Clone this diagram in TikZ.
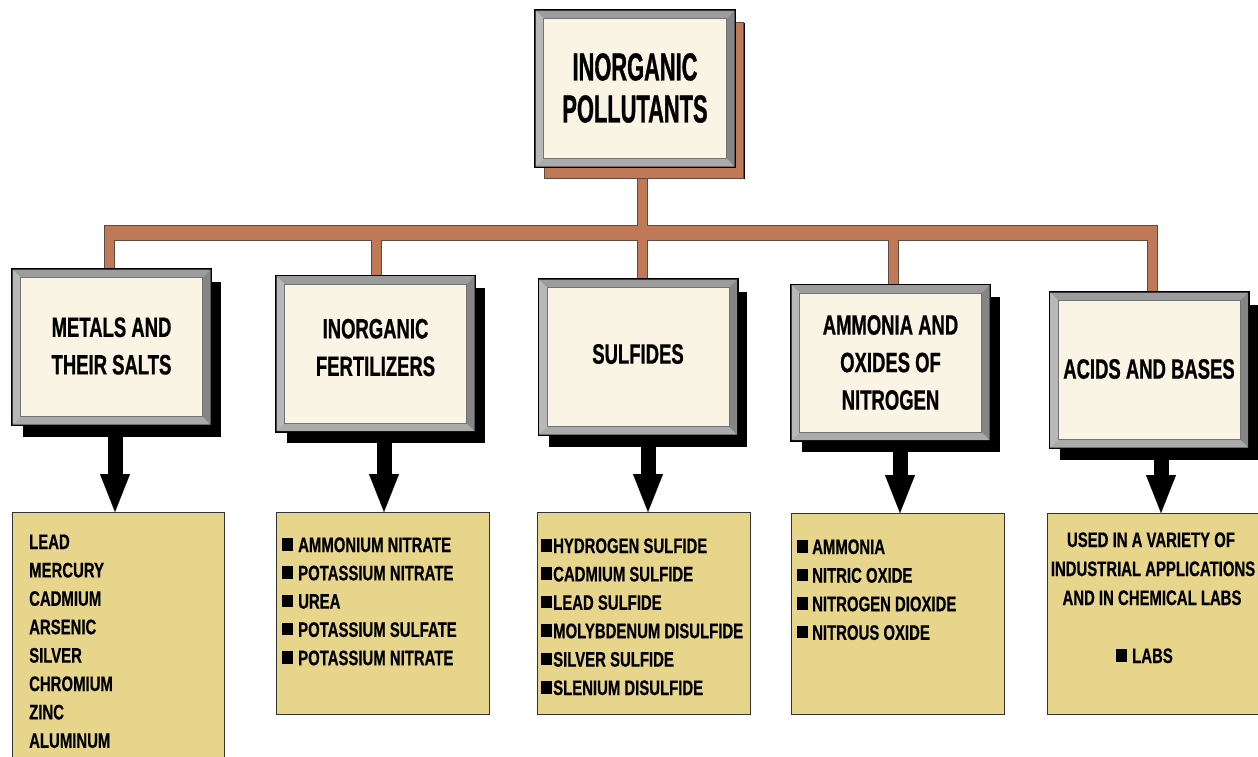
\documentclass[tikz,border=0pt]{standalone}
\usepackage{fontspec}
\setmainfont{Liberation Sans}
\newfontfamily\titlefont{Liberation Sans}[FakeStretch=0.56,FakeBold=0.8]
\newfontfamily\lblfont{Liberation Sans}[FakeStretch=0.66,FakeBold=0.7]
\newfontfamily\listfont{Liberation Sans}[FakeStretch=0.71,FakeBold=0.5]
\usetikzlibrary{shadows,arrows.meta,backgrounds}
\definecolor{cream}{HTML}{FAF4E4}
\definecolor{tan}{HTML}{E6D58B}
\definecolor{conbrown}{HTML}{BF7956}
\definecolor{conedge}{HTML}{5E4A3E}
\definecolor{bvT}{HTML}{9C9C9C}
\definecolor{bvL}{HTML}{B8B8B8}
\definecolor{bvR}{HTML}{858585}
\definecolor{bvB}{HTML}{ABABAB}
\newcommand\bevelbox[1]{%
  \fill[bvT] ([shift={(1.5pt,-1.5pt)}]#1.north west) -- ([shift={(-1.5pt,-1.5pt)}]#1.north east) -- ([shift={(-9.5pt,-9.5pt)}]#1.north east) -- ([shift={(9.5pt,-9.5pt)}]#1.north west) -- cycle;
  \fill[bvB] ([shift={(1.5pt,1.5pt)}]#1.south west) -- ([shift={(-1.5pt,1.5pt)}]#1.south east) -- ([shift={(-9.5pt,9.5pt)}]#1.south east) -- ([shift={(9.5pt,9.5pt)}]#1.south west) -- cycle;
  \fill[bvL] ([shift={(1.5pt,-1.5pt)}]#1.north west) -- ([shift={(9.5pt,-9.5pt)}]#1.north west) -- ([shift={(9.5pt,9.5pt)}]#1.south west) -- ([shift={(1.5pt,1.5pt)}]#1.south west) -- cycle;
  \fill[bvR] ([shift={(-1.5pt,-1.5pt)}]#1.north east) -- ([shift={(-9.5pt,-9.5pt)}]#1.north east) -- ([shift={(-9.5pt,9.5pt)}]#1.south east) -- ([shift={(-1.5pt,1.5pt)}]#1.south east) -- cycle;
  \draw[black!55, line width=0.6pt] ([shift={(9.5pt,-9.5pt)}]#1.north west) rectangle ([shift={(-9.5pt,9.5pt)}]#1.south east);
}
\newcommand\sqb{\rule[1.5pt]{11pt}{12.5pt}}
\begin{document}
\begin{tikzpicture}[x=1pt,y=-1pt,
  hbox/.style={draw=black, line width=3pt, fill=cream, minimum width=198pt, minimum height=155pt,
    inner sep=0pt, drop shadow={shadow xshift=10pt, shadow yshift=-12pt, fill=black, opacity=1}},
  tbox/.style={hbox, minimum width=199pt, minimum height=156pt,
    drop shadow={shadow xshift=9pt, shadow yshift=-12pt, fill=conbrown, draw=conedge, line width=1pt, opacity=1}},
  htext/.style={inner sep=0pt, align=center, font=\lblfont\bfseries\fontsize{28}{37.5}\selectfont},
  ttext/.style={inner sep=0pt, align=center, font=\titlefont\bfseries\fontsize{39}{42}\selectfont},
  lbox/.style={draw=black!80, line width=1.2pt, fill=tan, inner sep=0pt, anchor=north west},
  ltext/.style={anchor=base west, inner sep=0pt, font=\listfont\bfseries\fontsize{21}{28}\selectfont},
  ctext/.style={anchor=base, inner sep=0pt, font=\listfont\bfseries\fontsize{21}{28}\selectfont},
  conn out/.style={draw=conedge, line width=11pt},
  conn in/.style={draw=conbrown, line width=9pt},
  bigarrow/.style={draw=black, line width=15pt, -{Triangle[width=30pt,length=38pt,line width=0.1pt]}}
]
\useasboundingbox (0,0) rectangle (1258,756);
\clip (0,0) rectangle (1258,756);

% header boxes
\node[tbox] (top) at (635,88.5) {};
\node[hbox] (b1) at (111.5,347) {};
\node[hbox] (b2) at (375.5,353.5) {};
\node[hbox] (b3) at (638,357) {};
\node[hbox] (b4) at (890.5,362.5) {};
\node[hbox] (b5) at (1149,370) {};
\foreach \n in {top,b1,b2,b3,b4,b5} {\bevelbox{\n}}
\node[ttext] (topt) at ([yshift=0.5pt]top.center) {INORGANIC\\POLLUTANTS};
\node[htext] (b1t) at ([yshift=1pt]b1.center) {METALS AND\\THEIR SALTS};
\node[htext] (b2t) at ([yshift=6pt]b2.center) {INORGANIC\\FERTILIZERS};
\node[htext] (b3t) at ([yshift=3pt]b3.center) {SULFIDES};
\node[htext] (b4t) at ([yshift=0pt]b4.center) {AMMONIA AND\\OXIDES OF\\NITROGEN};
\node[htext] (b5t) at ([yshift=1pt]b5.center) {ACIDS AND BASES};

% list boxes
\node[lbox, minimum width=212pt, minimum height=260pt] (l1) at (12,512) {};
\node[lbox, minimum width=213pt, minimum height=202pt] (l2) at (276,512) {};
\node[lbox, minimum width=213pt, minimum height=202pt] (l3) at (537,512) {};
\node[lbox, minimum width=213pt, minimum height=201pt] (l4) at (791,513) {};
\node[lbox, minimum width=230pt, minimum height=201pt] (l5) at (1047,513) {};

% connector coordinates
\coordinate (d1) at (109.5,233);
\coordinate (d2) at (376.5,233);
\coordinate (d3) at (642.5,233);
\coordinate (d4) at (893.5,233);
\coordinate (d5) at (1152.5,233);
\coordinate (ax1) at (115,0);
\coordinate (ax2) at (384,0);
\coordinate (ax3) at (648,0);
\coordinate (ax4) at (900,0);
\coordinate (ax5) at (1161,0);

\begin{scope}[on background layer]
  % outline pass
  \draw[conn out] (d3 |- top.south) -- (d3);
  \foreach \i in {1,...,5} {\draw[conn out] (d\i) -- (d\i |- b\i.north);}
  \draw[draw=conedge, line width=16pt, shorten <=-5.5pt, shorten >=-5.5pt] (d1) -- (d5);
  % fill pass
  \draw[conn in] (d3 |- top.south) -- (d3);
  \foreach \i in {1,...,5} {\draw[conn in] ([yshift=-2pt]d\i) -- (d\i |- b\i.north);}
  \draw[draw=conbrown, line width=14pt, shorten <=-4.5pt, shorten >=-4.5pt] (d1) -- (d5);
  % arrows
  \foreach \i in {1,...,5} {\draw[bigarrow] (ax\i |- b\i.south) -- (ax\i |- l\i.north);}
\end{scope}

% list 1
\foreach \t [count=\i from 0] in {LEAD,MERCURY,CADMIUM,ARSENIC,SILVER,CHROMIUM,ZINC,ALUMINUM}
  {\node[ltext] (t1-\i) at (29,549+28.4*\i) {\t};}
% list 2
\foreach \t [count=\i from 0] in {AMMONIUM NITRATE,POTASSIUM NITRATE,UREA,POTASSIUM SULFATE,POTASSIUM NITRATE}
  {\node[ltext] (t2-\i) at (282,552+28.3*\i) {\sqb\hspace{5pt}\t};}
% list 3
\foreach \t [count=\i from 0] in {HYDROGEN SULFIDE,CADMIUM SULFIDE,LEAD SULFIDE,MOLYBDENUM DISULFIDE,SILVER SULFIDE,SLENIUM DISULFIDE}
  {\node[ltext] (t3-\i) at (541,553+28.4*\i) {\sqb\hspace{1pt}\t};}
% list 4
\foreach \t [count=\i from 0] in {AMMONIA,NITRIC OXIDE,NITROGEN DIOXIDE,NITROUS OXIDE}
  {\node[ltext] (t4-\i) at (797,554+28.6*\i) {\sqb\hspace{4pt}\t};}
% list 5
\node[ctext] (t5-0) at (1151,547) {USED IN A VARIETY OF};
\node[ctext] (t5-1) at (1153,576) {INDUSTRIAL APPLICATIONS};
\node[ctext] (t5-2) at (1152,605) {AND IN CHEMICAL LABS};
\node[ltext] (t5-3) at (1116,663) {\sqb\hspace{5pt}LABS};
\end{tikzpicture}
\end{document}
